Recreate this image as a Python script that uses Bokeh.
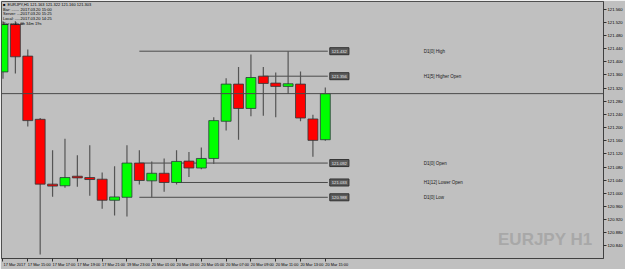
from bokeh.plotting import figure
from bokeh.models import (Range1d, FixedTicker, PrintfTickFormatter, Label, Span, ColumnDataSource,
                          LinearAxis)
from bokeh.embed import file_html
from bokeh.resources import INLINE

# ---- data (EURJPY H1) ----
opens  = [121.369, 121.513, 121.417, 121.225, 121.028, 121.023, 121.052, 121.048, 121.043, 120.979,
          120.988, 121.092, 121.038, 121.061, 121.033, 121.098, 121.077, 121.106, 121.219, 121.332,
          121.258, 121.356, 121.335, 121.325, 121.332, 121.226, 121.163]
highs  = [121.523, 121.523, 121.437, 121.229, 121.131, 121.166, 121.116, 121.146, 121.063, 121.082,
          121.146, 121.131, 121.097, 121.106, 121.131, 121.126, 121.139, 121.231, 121.350, 121.384,
          121.422, 121.384, 121.367, 121.432, 121.370, 121.239, 121.322]
lows   = [121.348, 121.364, 121.203, 120.814, 120.990, 121.017, 121.020, 120.993, 120.953, 120.933,
          120.930, 121.027, 120.988, 121.005, 121.027, 121.050, 121.073, 121.089, 121.191, 121.163,
          121.234, 121.236, 121.231, 121.302, 121.219, 121.111, 121.160]
closes = [121.513, 121.415, 121.221, 121.028, 121.022, 121.048, 121.047, 121.042, 120.979, 120.989,
          121.092, 121.039, 121.061, 121.033, 121.097, 121.077, 121.106, 121.221, 121.332, 121.258,
          121.352, 121.334, 121.325, 121.333, 121.229, 121.161, 121.303]

time_tick_bars = [0, 2, 4, 6, 8, 10, 12, 14, 16, 18, 20, 22, 24, 26]
time_tick_labels = ["17 Mar 2017", "17 Mar 15:00", "17 Mar 17:00", "17 Mar 19:00", "17 Mar 21:00",
                    "19 Mar 23:00", "20 Mar 01:00", "20 Mar 03:00", "20 Mar 05:00", "20 Mar 07:00",
                    "20 Mar 09:00", "20 Mar 11:00", "20 Mar 13:00", "20 Mar 15:00"]
price_ticks = [120.80, 120.84, 120.88, 120.92, 120.96, 121.00, 121.04, 121.08, 121.12, 121.16,
               121.20, 121.24, 121.28, 121.32, 121.36, 121.40, 121.44, 121.48, 121.52, 121.56]

level_values = [121.432, 121.356, 121.092, 121.033, 120.988]
level_start_bar = [11, 21, 11, 14, 11]
level_names = ["D1[0] High", "H1[5] Higher Open", "D1[0] Open", "H1[12] Lower Open", "D1[0] Low"]

current_price = 121.303
header_title = "EURJPY,H1  121.163 121.322 121.160 121.303"
header_keys = ["Bar: .......", "Server: ....", "Local: .....", "Bar ends in:"]
header_values = ["2017.03.20 15:00", "2017.03.20 15:25", "2017.03.20 14:25", "0h 34m 19s"]

# ---- figure ----
BG = "#c0c0c0"
FONT = "Liberation Sans"
n = len(opens)
idx = list(range(n))

p = figure(width=625, height=269, output_backend="svg", toolbar_location=None,
           x_range=Range1d(-0.12, 48.44), y_range=Range1d(120.802, 121.583),
           y_axis_location="right", min_border_left=1, min_border_right=17,
           min_border_top=1, min_border_bottom=10)
p.background_fill_color = BG
p.border_fill_color = BG
p.outline_line_color = "#505050"
p.grid.visible = False

for ax in (p.xaxis[0], p.yaxis[0]):
    ax.axis_line_color = "#404040"
    ax.major_tick_line_color = "#303030"
    ax.major_tick_out = 3
    ax.major_tick_in = 0
    ax.minor_tick_line_color = None
    ax.major_label_text_font = FONT
    ax.major_label_text_font_size = "4.2px"
    ax.major_label_text_color = "#000000"
    ax.major_label_standoff = 1

p.yaxis[0].ticker = FixedTicker(ticks=price_ticks)
p.yaxis[0].formatter = PrintfTickFormatter(format="%.3f")

# time axis: tick marks at the bars, labels on a second axis shifted so they start at the tick
p.xaxis[0].ticker = FixedTicker(ticks=time_tick_bars)
p.xaxis[0].major_label_overrides = {b: "" for b in time_tick_bars}
p.xaxis[0].major_label_standoff = 0
p.xaxis[0].major_label_text_font_size = "1px"

label_shift = 0.92
shifted = [b + label_shift for b in time_tick_bars]
lab_axis = LinearAxis(ticker=FixedTicker(ticks=shifted),
                      major_label_overrides={s: l for s, l in zip(shifted, time_tick_labels)},
                      axis_line_color=None, major_tick_line_color=None, minor_tick_line_color=None,
                      major_tick_out=0, major_tick_in=0, major_label_standoff=0,
                      major_label_text_font=FONT, major_label_text_font_size="3.9px",
                      major_label_text_color="#000000")
p.add_layout(lab_axis, "below")

# current price line
p.add_layout(Span(location=current_price, dimension="width", line_color="#4a4a4a", line_width=1))

# level lines
x_end = n - 1 + 0.2
p.segment(x0=level_start_bar, y0=level_values, x1=[x_end] * len(level_values), y1=level_values,
          line_color="#4a4a4a", line_width=1)

# candles
src = ColumnDataSource(dict(
    x=idx, o=opens, h=highs, l=lows, c=closes,
    top=[max(a, b) for a, b in zip(opens, closes)],
    bot=[min(a, b) for a, b in zip(opens, closes)],
    col=["#00ff00" if c >= o else "#ff0000" for o, c in zip(opens, closes)],
))
p.segment(x0="x", y0="l", x1="x", y1="h", source=src, line_color="#555555", line_width=1.2)
p.vbar(x="x", width=0.8, top="top", bottom="bot", fill_color="col", line_color="#2a3a3a",
       line_width=0.8, source=src)

# level price boxes and names
for v, name in zip(level_values, level_names):
    p.add_layout(Label(x=x_end, y=v, text=f"{v:.3f}", text_font=FONT, text_font_size="4.2px",
                       text_color="#e8e8e8", text_baseline="middle", x_offset=2,
                       background_fill_color="#5c5c5c", border_line_color="#303030", padding=2))
    p.add_layout(Label(x=x_end, y=v, text=name, text_font=FONT, text_font_size="4.5px",
                       text_color="#1a1a1a", text_baseline="middle", x_offset=96))

# current price tag on the axis
p.add_layout(Label(x=48.44, y=current_price, text=f"{current_price:.3f}", text_font=FONT,
                   text_font_size="4.2px", text_color="#ffffff", text_baseline="middle",
                   x_offset=1, background_fill_color="#000000", padding=1))

# header info (screen units, measured from the frame's bottom-left)
p.add_layout(Label(x=1.5, y=254.3, x_units="screen", y_units="screen", text="■",
                   text_font=FONT, text_font_size="4px", text_color="#000000",
                   text_baseline="middle"))
p.add_layout(Label(x=6, y=254.3, x_units="screen", y_units="screen", text=header_title,
                   text_font=FONT, text_font_size="4px", text_color="#000000",
                   text_baseline="middle"))
for i, (k, v) in enumerate(zip(header_keys, header_values)):
    yy = 249.5 - 4.7 * i
    p.add_layout(Label(x=1.5, y=yy, x_units="screen", y_units="screen", text=k,
                       text_font=FONT, text_font_size="4px", text_color="#000000",
                       text_baseline="middle"))
    p.add_layout(Label(x=19, y=yy, x_units="screen", y_units="screen", text=v,
                       text_font=FONT, text_font_size="4px", text_color="#000000",
                       text_baseline="middle"))

# watermark
p.add_layout(Label(x=591, y=19, x_units="screen", y_units="screen", text="EURJPY H1",
                   text_font=FONT, text_font_style="bold", text_font_size="17px",
                   text_color="#a8a8a8", text_align="right", text_baseline="alphabetic"))

open("out.html", "w").write(file_html(p, INLINE))
